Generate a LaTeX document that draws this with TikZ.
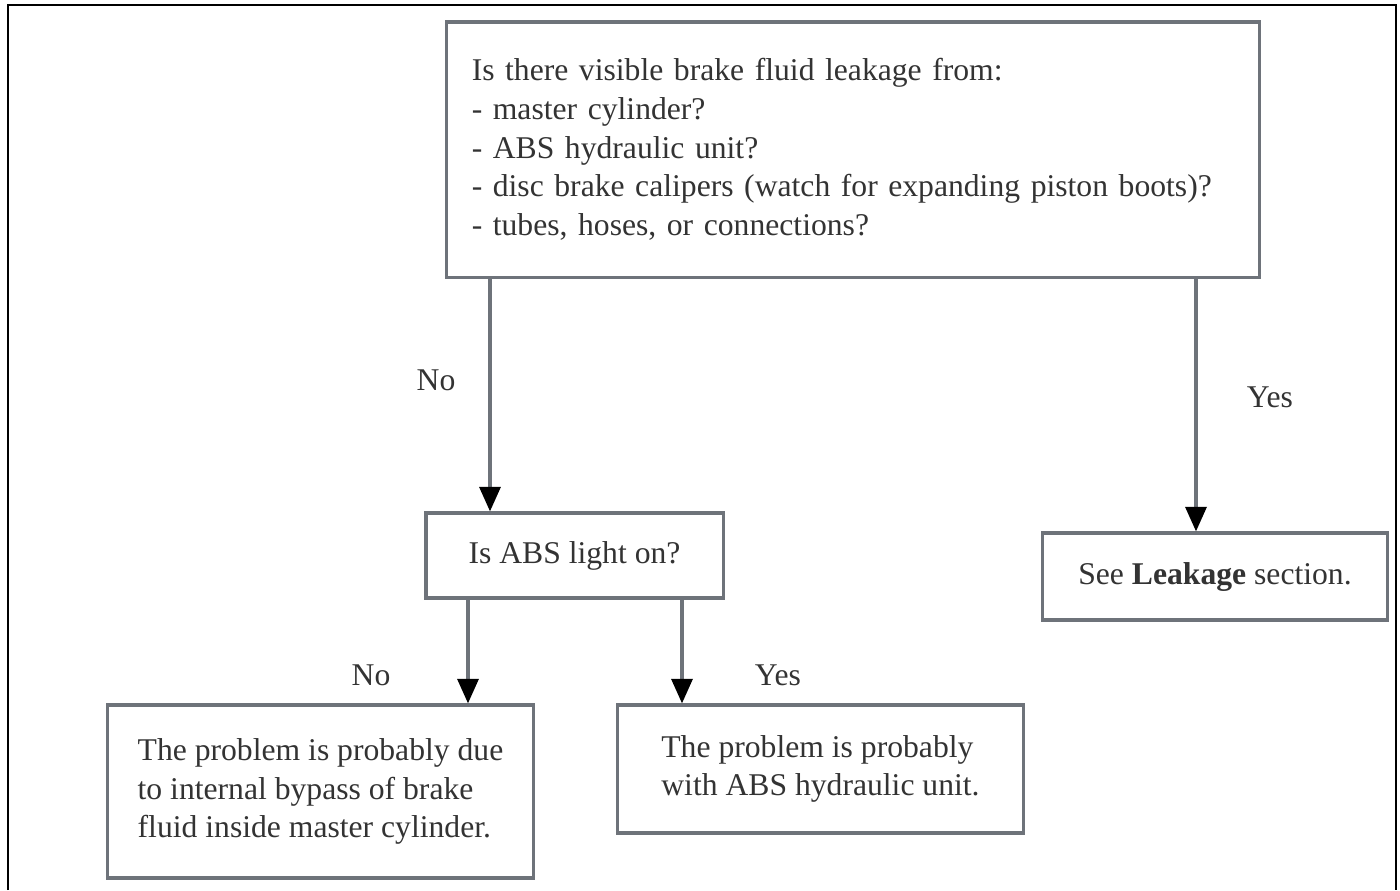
\documentclass[tikz,border=0pt]{standalone}
\usepackage{fontspec}
\setmainfont{Liberation Serif}
\usetikzlibrary{arrows.meta}
\definecolor{boxgray}{HTML}{6E737A}
\definecolor{inkgray}{HTML}{333333}
\tikzset{
  box/.style={draw=boxgray, line width=0.9pt, rectangle, inner sep=0pt, text=inkgray,
    font=\fontsize{9}{11}\selectfont},
  arr/.style={draw=boxgray, line width=0.9pt,
    -{Triangle[width=6pt,length=7pt,color=black]}},
  lbl/.style={text=inkgray, font=\fontsize{9}{11}\selectfont}
}
\begin{document}
\begin{tikzpicture}[x=0.01cm,y=-0.01cm]
    \useasboundingbox (0,0) rectangle (1400,890);
    % outer frame, open at the bottom
    \draw [black, line width=0.4pt] (8,890) -- (8,5) -- (1396,5) -- (1396,890);
    % boxes
    \node [box, text width=7.62cm, inner xsep=0.25cm, minimum height=2.55cm, align=left]
      (leak) at (853,149.5) {Is there visible brake fluid leakage from:\\
      - master cylinder?\\
      - ABS hydraulic unit?\\
      - disc brake calipers (watch for expanding piston boots)?\\
      - tubes, hoses, or connections?};
    \node [box, minimum width=2.97cm, minimum height=0.85cm] (abs) at (574.5,555.5) {Is ABS light on?};
    \node [box, minimum width=3.44cm, minimum height=0.87cm] (see) at (1215,576.5) {See \textbf{Leakage} section.};
    \node [box, minimum width=4.25cm, minimum height=1.73cm, align=left] (bypass) at (320.5,791.5)
      {The problem is probably due\\ to internal bypass of brake\\ fluid inside master cylinder.};
    \node [box, minimum width=4.05cm, minimum height=1.28cm, align=left] (unit) at (820.5,769)
      {The problem is probably\\ with ABS hydraulic unit.};
    % arrow columns
    \coordinate (c1) at (490,0);
    \coordinate (c2) at (1196,0);
    \coordinate (c3) at (468,0);
    \coordinate (c4) at (682,0);
    \draw [arr] (leak.south -| c1) -- (abs.north -| c1);
    \draw [arr] (leak.south -| c2) -- (see.north -| c2);
    \draw [arr] (abs.south -| c3) -- (bypass.north -| c3);
    \draw [arr] (abs.south -| c4) -- (unit.north -| c4);
    % labels
    \node [lbl] (no1) at (436,380) {No};
    \node [lbl] (yes1) at (1270,397) {Yes};
    \node [lbl] (no2) at (371,675) {No};
    \node [lbl] (yes2) at (778,675) {Yes};
\end{tikzpicture}
\end{document}
